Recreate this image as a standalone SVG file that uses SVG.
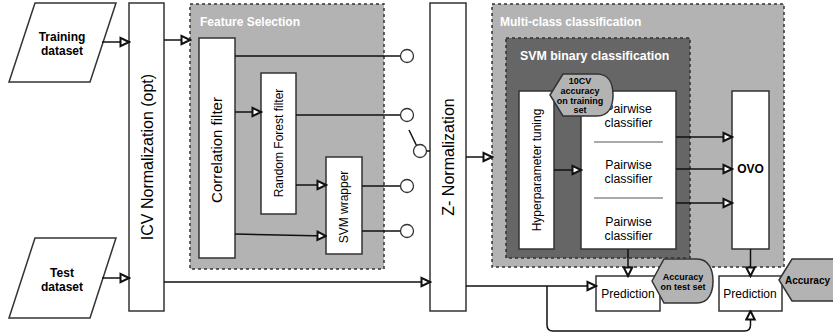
<svg xmlns="http://www.w3.org/2000/svg" width="833" height="335" viewBox="0 0 833 335">
<defs>
<style>
text{font-family:"Liberation Sans",Arial,sans-serif;fill:#000}
.b{font-weight:bold}
.box{fill:#fff;stroke:#333;stroke-width:1.5}
.grp{fill:#b3b3b3;stroke:#333;stroke-width:1.5;stroke-dasharray:3 3}
.dark{fill:#666;stroke:#333;stroke-width:1.5;stroke-dasharray:3 3}
.title{font-weight:bold;fill:#fff;font-size:12px}
.call{fill:#b3b3b3;stroke:#333;stroke-width:1.5}
.ln{fill:none;stroke:#111;stroke-width:1.5}
.ar{marker-end:url(#arr)}
.sw{fill:#fff;stroke:#333;stroke-width:1.3}
</style>
<marker id="arr" markerUnits="userSpaceOnUse" markerWidth="12" markerHeight="12" viewBox="0 0 12 12" refX="10.5" refY="6" orient="auto">
<path d="M2,1.8 L10.5,6 L2,10.2 Z" fill="#fff" stroke="#111" stroke-width="2"/>
</marker>
</defs>

<g id="feature-selection">
<rect class="grp" x="190" y="4" width="194" height="265"/>
<text class="title" x="200" y="26">Feature Selection</text>
</g>
<g id="multi-class">
<rect class="grp" x="492" y="4" width="292" height="263"/>
<text class="title" x="500" y="26">Multi-class classification</text>
</g>
<g id="svm-binary">
<rect class="dark" x="506" y="38" width="184" height="220"/>
<text class="title" x="520" y="60" style="font-size:12.4px">SVM binary classification</text>
</g>

<g id="training-dataset">
<path class="box" d="M35,3 L116,3 L90,82 L9,82 Z"/>
<text class="b" x="62" y="41" font-size="12" text-anchor="middle">Training</text>
<text class="b" x="62" y="55" font-size="12" text-anchor="middle">dataset</text>
</g>
<g id="test-dataset">
<path class="box" d="M35,238 L116,238 L90,318 L9,318 Z"/>
<text class="b" x="62" y="277" font-size="12" text-anchor="middle">Test</text>
<text class="b" x="62" y="291" font-size="12" text-anchor="middle">dataset</text>
</g>
<g id="icv-normalization">
<rect class="box" x="129" y="3" width="35" height="308"/>
<text transform="translate(147,157) rotate(-90)" font-size="16" text-anchor="middle" dy=".35em">ICV Normalization (opt)</text>
</g>
<g id="correlation-filter">
<rect class="box" x="199" y="38" width="36" height="220"/>
<text transform="translate(217,150) rotate(-90)" font-size="15" text-anchor="middle" dy=".35em">Correlation filter</text>
</g>
<g id="random-forest-filter">
<rect class="box" x="261" y="73" width="35" height="141"/>
<text transform="translate(278.5,143) rotate(-90)" font-size="12" text-anchor="middle" dy=".35em">Random Forest filter</text>
</g>
<g id="svm-wrapper">
<rect class="box" x="326" y="157" width="36" height="97"/>
<text transform="translate(344,207) rotate(-90)" font-size="12" text-anchor="middle" dy=".35em">SVM wrapper</text>
</g>
<g id="z-normalization">
<rect class="box" x="430" y="3" width="36" height="308"/>
<text transform="translate(448,157) rotate(-90)" font-size="16" text-anchor="middle" dy=".35em">Z- Normalization</text>
</g>
<g id="hyperparameter-tuning">
<rect class="box" x="519" y="91" width="35" height="158"/>
<text transform="translate(536.5,170) rotate(-90)" font-size="12" text-anchor="middle" dy=".35em">Hyperparameter tuning</text>
</g>
<g id="pairwise-classifiers">
<rect class="box" x="581" y="91" width="95" height="158"/>
<text x="628.5" y="113" font-size="12.3" text-anchor="middle">Pairwise</text>
<text x="628.5" y="127" font-size="12.3" text-anchor="middle">classifier</text>
<line x1="594" y1="142" x2="663" y2="142" stroke="#555" stroke-width="1"/>
<text x="628.5" y="169" font-size="12.3" text-anchor="middle">Pairwise</text>
<text x="628.5" y="183" font-size="12.3" text-anchor="middle">classifier</text>
<line x1="594" y1="198" x2="663" y2="198" stroke="#555" stroke-width="1"/>
<text x="628.5" y="226" font-size="12.3" text-anchor="middle">Pairwise</text>
<text x="628.5" y="240" font-size="12.3" text-anchor="middle">classifier</text>
</g>
<g id="ovo">
<rect class="box" x="732" y="91" width="37" height="158"/>
<text class="b" x="750.5" y="173" font-size="12" text-anchor="middle">OVO</text>
</g>
<g id="prediction-1">
<rect class="box" x="596" y="276" width="64" height="35"/>
<text x="628" y="298" font-size="12" text-anchor="middle">Prediction</text>
</g>
<g id="prediction-2">
<rect class="box" x="719" y="276" width="63" height="35"/>
<text x="750" y="298" font-size="12" text-anchor="middle">Prediction</text>
</g>

<g id="connectors">
<line class="ln ar" x1="102" y1="42" x2="129" y2="42"/>
<line class="ln ar" x1="102" y1="278" x2="129" y2="278"/>
<line class="ln ar" x1="164" y1="40" x2="190" y2="40"/>
<line class="ln ar" x1="164" y1="282" x2="430" y2="282"/>
<line class="ln" x1="235" y1="56" x2="400.5" y2="56"/>
<line class="ln ar" x1="235" y1="112" x2="261" y2="112"/>
<line class="ln" x1="296" y1="115" x2="400.5" y2="115"/>
<line class="ln ar" x1="296" y1="185" x2="326" y2="185"/>
<line class="ln ar" x1="235" y1="234" x2="326" y2="236"/>
<line class="ln" x1="362" y1="186" x2="400.5" y2="186"/>
<line class="ln" x1="362" y1="231" x2="400.5" y2="231"/>
<line class="ln" x1="409" y1="130" x2="416.5" y2="145.5"/>
<line class="ln" x1="426.5" y1="151" x2="430" y2="151"/>
<line class="ln ar" x1="466" y1="157" x2="492" y2="157"/>
<line class="ln ar" x1="554" y1="170" x2="581" y2="170"/>
<line class="ln ar" x1="676" y1="137" x2="732" y2="137"/>
<line class="ln ar" x1="676" y1="169" x2="732" y2="169"/>
<line class="ln ar" x1="676" y1="203" x2="732" y2="203"/>
<line class="ln ar" x1="628" y1="249" x2="628" y2="276"/>
<line class="ln ar" x1="750.5" y1="249" x2="750.5" y2="276"/>
<line class="ln ar" x1="466" y1="286" x2="596" y2="286"/>
<path class="ln ar" d="M547,286 L547,325 Q547,331 553,331 L744.5,331 Q750.5,331 750.5,325 L750.5,311"/>
<circle class="sw" cx="407" cy="56" r="6.5"/>
<circle class="sw" cx="407" cy="115" r="6.5"/>
<circle class="sw" cx="407" cy="186" r="6.5"/>
<circle class="sw" cx="407" cy="231" r="6.5"/>
<circle class="sw" cx="420" cy="151" r="6.5"/>
</g>

<g id="callout-10cv">
<path class="call" d="M550,95 L563,74 L597,74 C609,74 613,84 613,95 C613,106 609,116 597,116 L563,116 Z"/>
<text class="b" x="580" y="84" font-size="9" text-anchor="middle">10CV</text>
<text class="b" x="580" y="94" font-size="9" text-anchor="middle">accuracy</text>
<text class="b" x="580" y="103.5" font-size="9" text-anchor="middle">on training</text>
<text class="b" x="580" y="113" font-size="9" text-anchor="middle">set</text>
</g>
<g id="callout-test-accuracy">
<path class="call" d="M652,281 L664,259 L697,259 C709,259 713,270 713,281 C713,292 709,303 697,303 L664,303 Z"/>
<text class="b" x="683" y="280" font-size="9" text-anchor="middle">Accuracy</text>
<text class="b" x="683" y="290" font-size="9" text-anchor="middle">on test set</text>
</g>
<g id="callout-accuracy">
<path class="call" d="M779,280 L792,259 L845,259 L845,301 L792,301 Z"/>
<text class="b" x="785" y="284" font-size="10">Accuracy</text>
</g>
</svg>
